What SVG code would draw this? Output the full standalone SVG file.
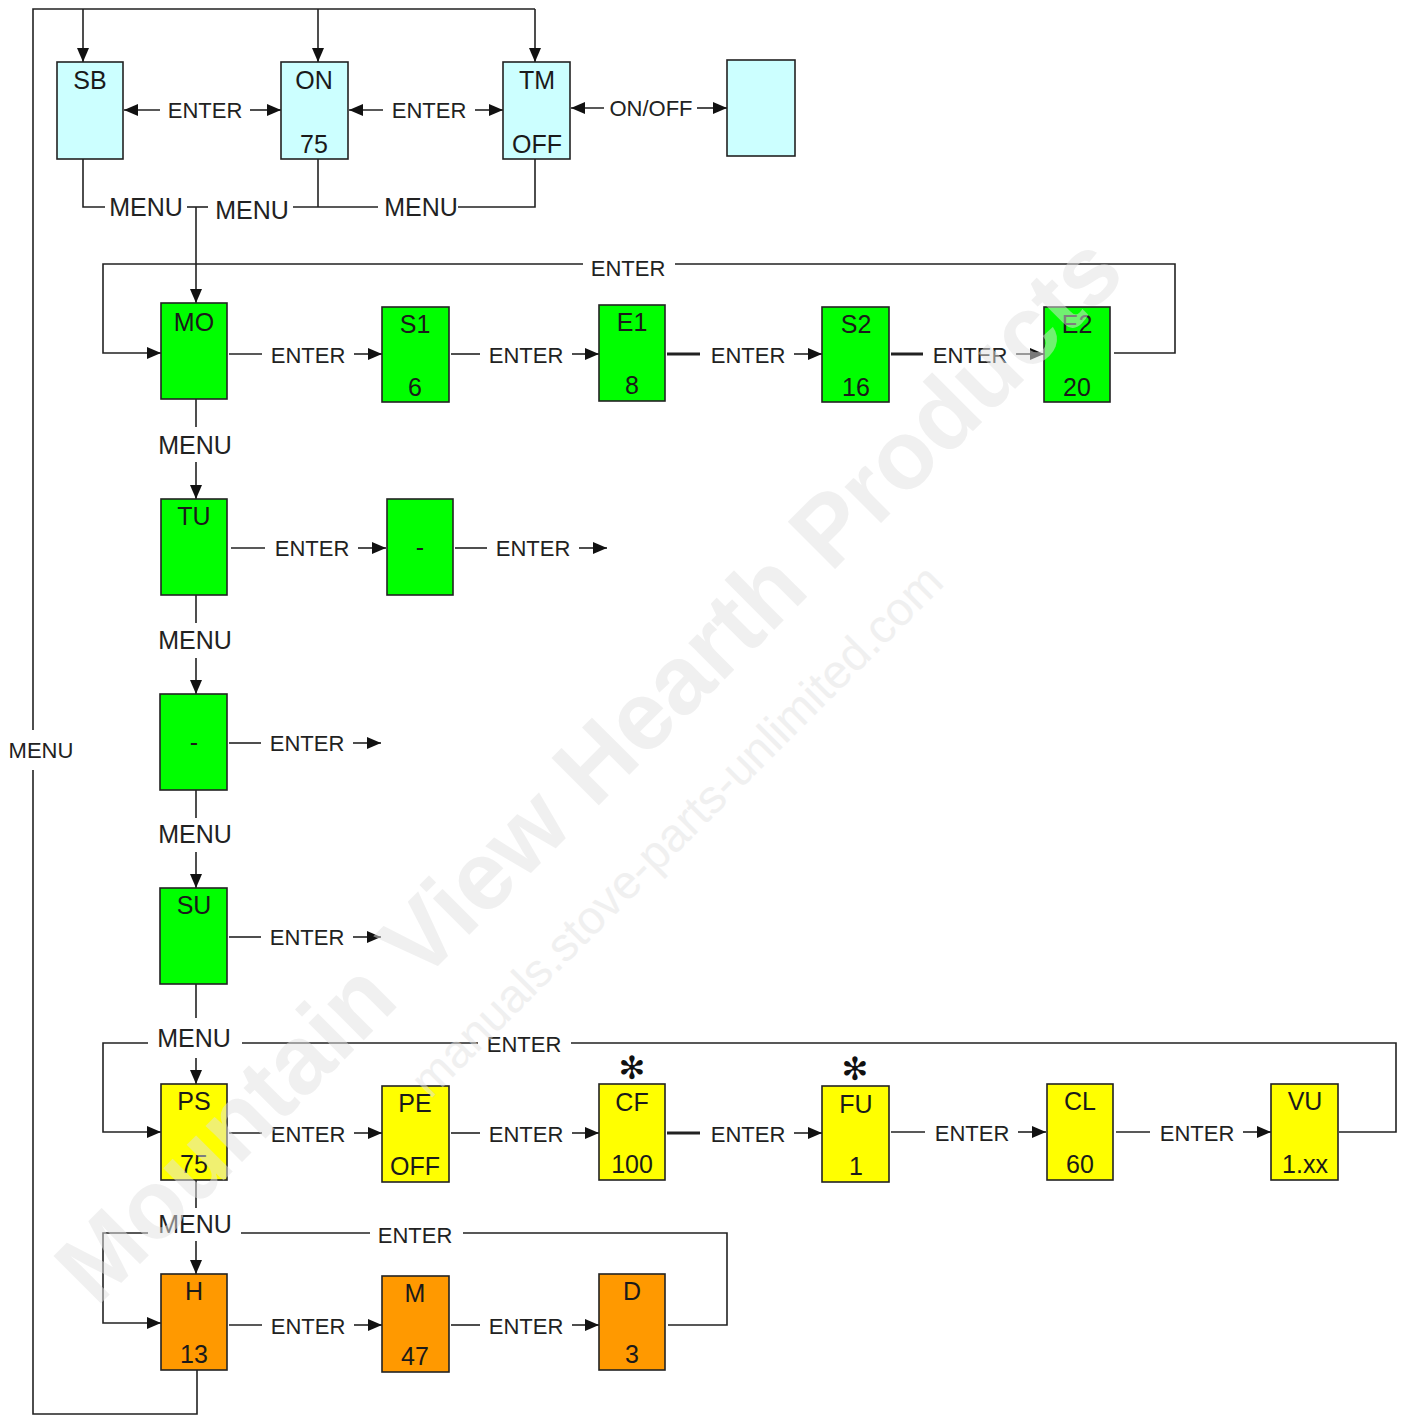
<svg xmlns="http://www.w3.org/2000/svg" width="1403" height="1416" viewBox="0 0 1403 1416">
<style>
.bx{stroke:#222;stroke-width:1.6}
.cy{fill:#ccffff}.gr{fill:#00ff00}.ye{fill:#ffff00}.or{fill:#ff9900}
.nl{font-family:"Liberation Sans",Arial,sans-serif;font-size:25px;fill:#1a1a1a;text-anchor:middle}
.lb{font-family:"Liberation Sans",Arial,sans-serif;font-size:22px;fill:#222;text-anchor:middle}
.mn{font-family:"Liberation Sans",Arial,sans-serif;font-size:25px;fill:#222;text-anchor:middle}
.ln{fill:none;stroke:#222;stroke-width:1.6}
.th{fill:none;stroke:#222;stroke-width:3}
.ar{fill:none;stroke:#222;stroke-width:1.6;marker-end:url(#ah)}
.wm{font-family:"Liberation Sans",Arial,sans-serif;fill:#e2e2e2;opacity:0.5}
.st{font-family:"DejaVu Sans",sans-serif;font-size:32px;fill:#111;text-anchor:middle;font-weight:bold}
</style>
<defs>
<marker id="ah" markerWidth="14" markerHeight="12" refX="14" refY="6" orient="auto" markerUnits="userSpaceOnUse"><path d="M0,0 L14,6 L0,12 z" fill="#111"/></marker>
</defs>
<rect width="1403" height="1416" fill="#fff"/>

<g id="connectors">
<path class="ln" d="M33,730 V9 H535"/>
<path class="ln" d="M33,770 V1414 H197 V1370"/>
<path class="ar" d="M83,9 V62"/>
<path class="ar" d="M318,9 V62"/>
<path class="ar" d="M535,9 V62"/>
<path class="ar" d="M160,110 H124"/>
<path class="ar" d="M250,110 H281"/>
<path class="ar" d="M383,110 H349"/>
<path class="ar" d="M475,110 H503"/>
<path class="ar" d="M604,108 H571"/>
<path class="ar" d="M697,108 H727"/>
<path class="ln" d="M83,159 V207 H105"/>
<path class="ln" d="M187,207 H208"/>
<path class="ar" d="M196,207 V303"/>
<path class="ln" d="M293,207 H378"/>
<path class="ln" d="M318,159 V207"/>
<path class="ln" d="M458,207 H535 V159"/>
<path class="ln" d="M1114,353 H1175 V264 H675"/>
<path class="ar" d="M583,264 H103 V353 H161"/>
<path class="ln" d="M229,354 H262"/><path class="ar" d="M354,354 H382"/>
<path class="ln" d="M451,354 H480"/><path class="ar" d="M572,354 H599"/>
<path class="th" d="M667,354 H700"/><path class="ar" d="M794,354 H822"/>
<path class="th" d="M891,354 H923"/><path class="ar" d="M1016,354 H1044"/>
<path class="ln" d="M196,399 V427"/><path class="ar" d="M196,462 V499"/>
<path class="ln" d="M231,548 H265"/><path class="ar" d="M358,548 H386"/>
<path class="ln" d="M455,548 H487"/><path class="ar" d="M579,548 H607"/>
<path class="ln" d="M196,595 V623"/><path class="ar" d="M196,658 V694"/>
<path class="ln" d="M229,743 H261"/><path class="ar" d="M353,743 H381"/>
<path class="ln" d="M196,790 V818"/><path class="ar" d="M196,852 V888"/>
<path class="ln" d="M229,937 H261"/><path class="ar" d="M353,937 H381"/>
<path class="ln" d="M196,984 V1018"/><path class="ar" d="M196,1058 V1084"/>
<path class="ar" d="M148,1043 H103 V1132 H161"/>
<path class="ln" d="M242,1043 H478"/>
<path class="ln" d="M571,1043 H1396 V1132 H1339"/>
<path class="ln" d="M229,1133 H262"/><path class="ar" d="M354,1133 H382"/>
<path class="ln" d="M451,1133 H480"/><path class="ar" d="M572,1133 H599"/>
<path class="th" d="M667,1133 H700"/><path class="ar" d="M794,1133 H822"/>
<path class="ln" d="M891,1132 H925"/><path class="ar" d="M1018,1132 H1046"/>
<path class="ln" d="M1116,1132 H1150"/><path class="ar" d="M1243,1132 H1271"/>
<path class="ln" d="M196,1180 V1208"/><path class="ar" d="M196,1241 V1274"/>
<path class="ar" d="M148,1233 H103 V1323 H161"/>
<path class="ln" d="M241,1233 H370"/>
<path class="ln" d="M463,1233 H727 V1325 H668"/>
<path class="ln" d="M229,1325 H262"/><path class="ar" d="M354,1325 H382"/>
<path class="ln" d="M451,1325 H480"/><path class="ar" d="M572,1325 H599"/>
</g>

<g id="labels">
<text class="lb" x="205" y="118">ENTER</text>
<text class="lb" x="429" y="118">ENTER</text>
<text class="lb" x="651" y="116">ON/OFF</text>
<text class="mn" x="146" y="216">MENU</text>
<text class="mn" x="252" y="219">MENU</text>
<text class="mn" x="421" y="216">MENU</text>
<text class="lb" x="41" y="758">MENU</text>
<text class="lb" x="628" y="276">ENTER</text>
<text class="lb" x="308" y="363">ENTER</text>
<text class="lb" x="526" y="363">ENTER</text>
<text class="lb" x="748" y="363">ENTER</text>
<text class="lb" x="970" y="363">ENTER</text>
<text class="mn" x="195" y="454">MENU</text>
<text class="lb" x="312" y="556">ENTER</text>
<text class="lb" x="533" y="556">ENTER</text>
<text class="mn" x="195" y="649">MENU</text>
<text class="lb" x="307" y="751">ENTER</text>
<text class="mn" x="195" y="843">MENU</text>
<text class="lb" x="307" y="945">ENTER</text>
<text class="mn" x="194" y="1047">MENU</text>
<text class="lb" x="524" y="1052">ENTER</text>
<text class="lb" x="308" y="1142">ENTER</text>
<text class="lb" x="526" y="1142">ENTER</text>
<text class="lb" x="748" y="1142">ENTER</text>
<text class="lb" x="972" y="1141">ENTER</text>
<text class="lb" x="1197" y="1141">ENTER</text>
<text class="mn" x="195" y="1233">MENU</text>
<text class="lb" x="415" y="1243">ENTER</text>
<text class="lb" x="308" y="1334">ENTER</text>
<text class="lb" x="526" y="1334">ENTER</text>
</g>

<g id="node-SB"><rect class="bx cy" x="57" y="62" width="66" height="97"/><text class="nl" x="90" y="89">SB</text></g>
<g id="node-ON"><rect class="bx cy" x="281" y="62" width="67" height="97"/><text class="nl" x="314" y="89">ON</text><text class="nl" x="314" y="153">75</text></g>
<g id="node-TM"><rect class="bx cy" x="503" y="62" width="67" height="97"/><text class="nl" x="537" y="89">TM</text><text class="nl" x="537" y="153">OFF</text></g>
<g id="node-blank"><rect class="bx cy" x="727" y="60" width="68" height="96"/></g>

<g id="node-MO"><rect class="bx gr" x="161" y="303" width="66" height="96"/><text class="nl" x="194" y="331">MO</text></g>
<g id="node-S1"><rect class="bx gr" x="382" y="307" width="67" height="95"/><text class="nl" x="415" y="333">S1</text><text class="nl" x="415" y="396">6</text></g>
<g id="node-E1"><rect class="bx gr" x="599" y="305" width="66" height="96"/><text class="nl" x="632" y="331">E1</text><text class="nl" x="632" y="394">8</text></g>
<g id="node-S2"><rect class="bx gr" x="822" y="307" width="67" height="95"/><text class="nl" x="856" y="333">S2</text><text class="nl" x="856" y="396">16</text></g>
<g id="node-E2"><rect class="bx gr" x="1044" y="307" width="66" height="95"/><text class="nl" x="1077" y="333">E2</text><text class="nl" x="1077" y="396">20</text></g>

<g id="node-TU"><rect class="bx gr" x="161" y="499" width="66" height="96"/><text class="nl" x="194" y="525">TU</text></g>
<g id="node-TU-dash"><rect class="bx gr" x="387" y="499" width="66" height="96"/><text class="nl" x="420" y="556">-</text></g>
<g id="node-dash"><rect class="bx gr" x="160" y="694" width="67" height="96"/><text class="nl" x="194" y="751">-</text></g>
<g id="node-SU"><rect class="bx gr" x="160" y="888" width="67" height="96"/><text class="nl" x="194" y="914">SU</text></g>

<g id="node-PS"><rect class="bx ye" x="161" y="1084" width="66" height="96"/><text class="nl" x="194" y="1110">PS</text><text class="nl" x="194" y="1173">75</text></g>
<g id="node-PE"><rect class="bx ye" x="382" y="1086" width="67" height="96"/><text class="nl" x="415" y="1112">PE</text><text class="nl" x="415" y="1175">OFF</text></g>
<g id="node-CF"><rect class="bx ye" x="599" y="1084" width="66" height="96"/><text class="nl" x="632" y="1111">CF</text><text class="nl" x="632" y="1173">100</text>
<text class="st" x="632" y="1079">✻</text></g>
<g id="node-FU"><rect class="bx ye" x="822" y="1086" width="67" height="96"/><text class="nl" x="856" y="1113">FU</text><text class="nl" x="856" y="1175">1</text>
<text class="st" x="855" y="1080">✻</text></g>
<g id="node-CL"><rect class="bx ye" x="1047" y="1084" width="66" height="96"/><text class="nl" x="1080" y="1110">CL</text><text class="nl" x="1080" y="1173">60</text></g>
<g id="node-VU"><rect class="bx ye" x="1271" y="1084" width="67" height="96"/><text class="nl" x="1305" y="1110">VU</text><text class="nl" x="1305" y="1173">1.xx</text></g>

<g id="node-H"><rect class="bx or" x="161" y="1274" width="66" height="96"/><text class="nl" x="194" y="1300">H</text><text class="nl" x="194" y="1363">13</text></g>
<g id="node-M"><rect class="bx or" x="382" y="1276" width="67" height="96"/><text class="nl" x="415" y="1302">M</text><text class="nl" x="415" y="1365">47</text></g>
<g id="node-D"><rect class="bx or" x="599" y="1274" width="66" height="96"/><text class="nl" x="632" y="1300">D</text><text class="nl" x="632" y="1363">3</text></g>

<g id="watermark">
<text class="wm" x="0" y="0" transform="translate(612,792) rotate(-45)" style="font-size:97px;font-weight:bold;text-anchor:middle">Mountain View Hearth Products</text>
<text class="wm" x="0" y="0" transform="translate(688,842) rotate(-45)" style="font-size:47px;text-anchor:middle">manuals.stove-parts-unlimited.com</text>
</g>
</svg>
